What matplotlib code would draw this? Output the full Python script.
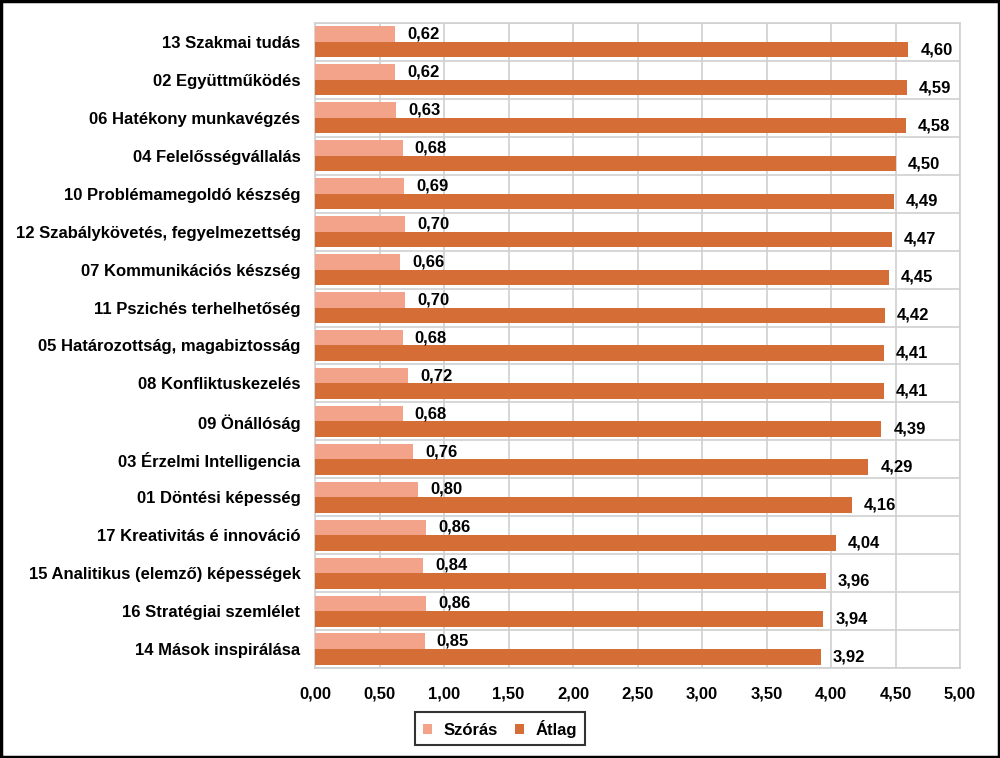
import numpy as np
import matplotlib
matplotlib.use('Agg')
import matplotlib.pyplot as plt
from matplotlib.patches import Rectangle

plt.rcParams['font.family'] = ['Liberation Sans', 'DejaVu Sans']
plt.rcParams['font.weight'] = 'bold'

categories = ['13 Szakmai tudás', '02 Együttműködés', '06 Hatékony munkavégzés',
              '04 Felelősségvállalás', '10 Problémamegoldó készség',
              '12 Szabálykövetés, fegyelmezettség', '07 Kommunikációs készség',
              '11 Pszichés terhelhetőség', '05 Határozottság, magabiztosság',
              '08 Konfliktuskezelés', '09 Önállóság', '03 Érzelmi Intelligencia',
              '01 Döntési képesség', '17 Kreativitás é innováció',
              '15 Analitikus (elemző) képességek', '16 Stratégiai szemlélet',
              '14 Mások inspirálása']
szoras = [0.62, 0.62, 0.63, 0.68, 0.69, 0.70, 0.66, 0.70, 0.68, 0.72, 0.68,
          0.76, 0.80, 0.86, 0.84, 0.86, 0.85]
atlag = [4.60, 4.59, 4.58, 4.50, 4.49, 4.47, 4.45, 4.42, 4.41, 4.41, 4.39,
         4.29, 4.16, 4.04, 3.96, 3.94, 3.92]
xticks = [0, 0.5, 1, 1.5, 2, 2.5, 3, 3.5, 4, 4.5, 5]

c_sz = '#F4A38B'
c_at = '#D46E36'

fig = plt.figure(figsize=(10, 7.58), dpi=100)
ax = fig.add_axes([0.315, 0.1187, 0.645, 0.851])

n = len(categories)
y = np.arange(n)[::-1]
h = 0.41
ax.barh(y + h / 2, szoras, height=h, color=c_sz, label='Szórás', zorder=3)
ax.barh(y - h / 2, atlag, height=h, color=c_at, label='Átlag', zorder=3)

fmt = lambda v: f'{v:.2f}'.replace('.', ',')
for yi, v in zip(y, szoras):
    ax.text(v + 0.093, yi + h / 2, fmt(v), va='center', ha='left', fontsize=12, fontweight='bold')
for yi, v in zip(y, atlag):
    ax.text(v + 0.093, yi - h / 2, fmt(v), va='center', ha='left', fontsize=12, fontweight='bold')

ax.set_xlim(0, 5)
ax.set_ylim(-0.5, n - 0.5)
ax.set_xticks(xticks)
ax.set_xticklabels([fmt(t) for t in xticks], fontsize=12, fontweight='bold')
ax.set_yticks(y)
ax.set_yticklabels(categories, fontsize=12, fontweight='bold')
ax.set_yticks(np.arange(n + 1) - 0.5, minor=True)
ax.tick_params(axis='both', length=0, which='both')
ax.tick_params(axis='x', pad=13)
ax.tick_params(axis='y', pad=10.5)
ax.grid(axis='x', color='#D0D0D0', linewidth=1.2, zorder=0)
ax.grid(axis='y', which='minor', color='#D0D0D0', linewidth=1.2, zorder=0)
for s in ax.spines.values():
    s.set_color('#D0D0D0')
    s.set_linewidth(1.2)

leg = ax.legend(loc='center', bbox_to_anchor=(0.5, 0.0383), bbox_transform=fig.transFigure,
                ncol=2, frameon=True, fancybox=False, fontsize=12, handlelength=0.55, handleheight=0.55,
                columnspacing=1.0, handletextpad=0.7, borderpad=0.45)
leg.get_frame().set_edgecolor('black')
leg.get_frame().set_linewidth(1.5)

fig.patches.append(Rectangle((0.001, 0.001), 0.998, 0.998, transform=fig.transFigure,
                             fill=False, edgecolor='black', linewidth=2.5))

fig.savefig('out.png', dpi=100)
